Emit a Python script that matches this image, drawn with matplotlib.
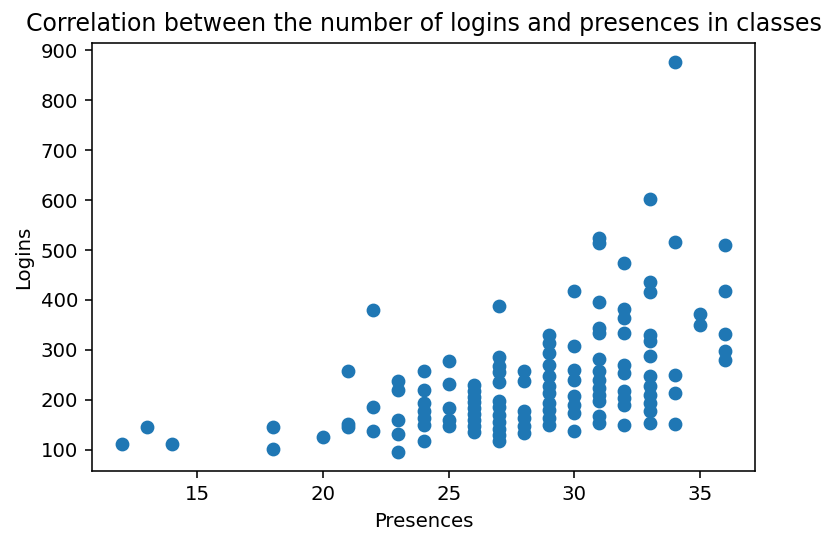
import matplotlib.pyplot as plt

# logins per student, grouped by number of class presences
presences = (
    [12, 13, 14, 18, 18, 20, 21, 21, 21, 22, 22, 22]
    + [23] * 5 + [24] * 7 + [25] * 5 + [26] * 9 + [27] * 12 + [28] * 6
    + [29] * 11 + [30] * 8 + [31] * 13 + [32] * 10 + [33] * 12 + [34] * 5
    + [35] * 2 + [36] * 5
)
logins = (
    [112, 146, 112, 146, 102, 126, 257, 152, 145, 379, 186, 138]
    + [237, 220, 160, 132, 96]
    + [257, 220, 194, 177, 164, 150, 117]
    + [277, 232, 184, 160, 148]
    + [229, 218, 205, 195, 183, 172, 160, 148, 135]
    + [388, 285, 268, 255, 235, 198, 185, 170, 155, 142, 130, 118]
    + [257, 237, 177, 164, 147, 134]
    + [330, 314, 294, 270, 247, 227, 214, 194, 180, 164, 150]
    + [417, 308, 260, 240, 207, 190, 174, 137]
    + [524, 514, 395, 344, 334, 282, 257, 240, 224, 210, 197, 167, 154]
    + [474, 381, 364, 334, 270, 254, 217, 204, 190, 149]
    + [603, 435, 415, 330, 317, 287, 247, 227, 210, 194, 177, 154]
    + [876, 517, 249, 214, 152]
    + [371, 350]
    + [510, 417, 332, 297, 280]
)

fig = plt.figure(figsize=(823 / 142, 534 / 142), dpi=142)
ax = fig.add_axes([0.1118, 0.118, 0.8056, 0.8015])
ax.scatter(presences, logins)
ax.set_title('Correlation between the number of logins and presences in classes')
ax.set_xlabel('Presences')
ax.set_ylabel('Logins')
plt.savefig('out.png', dpi=142)
